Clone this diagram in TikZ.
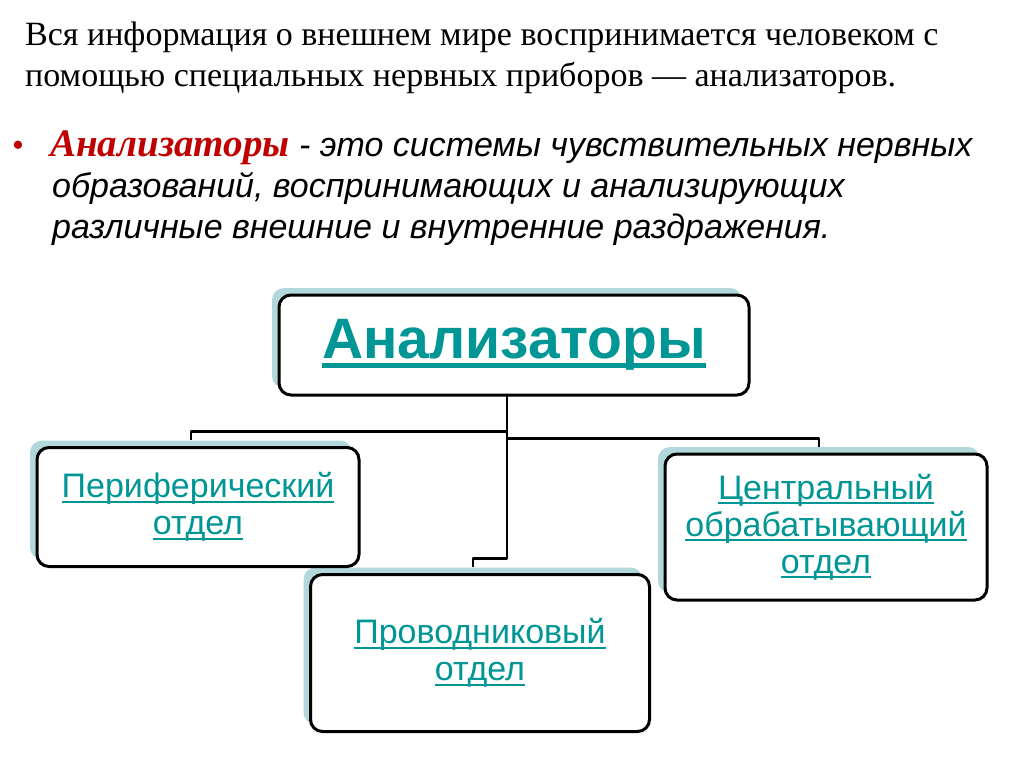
\documentclass[tikz,border=0pt]{standalone}
\usepackage{fontspec}
\setmainfont{Liberation Serif}
\setsansfont{Liberation Sans}
\usetikzlibrary{calc,positioning}
\definecolor{anateal}{RGB}{0,150,150}
\definecolor{anashade}{RGB}{178,216,219}
\definecolor{anared}{RGB}{192,0,0}
\newlength\ulw
\newcommand\tul[3]{\settowidth\ulw{#3}\rlap{\rule[-#1]{\ulw}{#2}}#3}
\newcommand\ulb[1]{\tul{5pt}{2.2pt}{#1}}
\tikzset{shd/.style={fill=anashade,rounded corners=12pt,inner sep=0pt},
  blk/.style={draw,line width=3pt,fill=white,rounded corners=12pt,inner sep=0pt,align=center,text=anateal,font=\sffamily\fontsize{34}{37}\selectfont},
  wire/.style={line width=2.8pt},
  intro/.style={anchor=base west,inner sep=0pt,font=\fontsize{34}{38}\selectfont},
  defn/.style={anchor=base west,inner sep=0pt,font=\sffamily\itshape\fontsize{34}{38}\selectfont}}

\begin{document}
\begin{tikzpicture}[x=1pt,y=-1pt,line join=round]
\useasboundingbox[fill=white] (0,0) rectangle (1024,767);
% --- text above the scheme
\node[intro] (intro1) at (25,46) {Вся информация о внешнем мире воспринимается человеком с};
\node[intro] (intro2) at (25,87) {помощью специальных нервных приборов — анализаторов.};
\node[intro,text=anared] (dot) at (12,157) {•};
\node[defn] (def1) at (50,157) {{\rmfamily\bfseries\itshape\fontsize{39}{38}\selectfont\color{anared}Анализаторы} - это системы чувствительных нервных};
\node[defn] (def2) at (52,198) {образований, воспринимающих и анализирующих};
\node[defn] (def3) at (52,238) {различные внешние и внутренние раздражения.};
% --- shadows
\node[shd,minimum width=470,minimum height=100] (anaS) at (507,338) {};
\node[shd,minimum width=322,minimum height=119] (periS) at (191,500) {};
\node[shd,minimum width=339,minimum height=157] (provS) at (473,646) {};
\node[shd,minimum width=322,minimum height=146] (centS) at (819,520) {};
% --- connectors
\draw[wire] (anaS.south) |- ($(periS.north)+(0,-9)$) -- (periS.north);
\draw[wire] (anaS.south) |- ($(centS.north)+(0,-8)$) -- (centS.north);
\draw[wire] (anaS.south) -- ($(anaS.south |- provS.north)+(0,-9)$) -| (provS.north);
% --- boxes
\node[blk,minimum width=470,minimum height=100,font=\sffamily\bfseries\fontsize{57}{60}\selectfont] (ana) at ($(anaS)+(7,7)$) {\tul{9pt}{4.5pt}{Анализаторы}};
\node[blk,minimum width=322,minimum height=119] (peri) at ($(periS)+(7,7)$) {\ulb{Периферический}\\\ulb{отдел}};
\node[blk,minimum width=339,minimum height=157] (prov) at ($(provS)+(7,7)$) {\ulb{Проводниковый}\\\ulb{отдел}};
\node[blk,minimum width=322,minimum height=146] (cent) at ($(centS)+(7,7)$) {\ulb{Центральный}\\\ulb{обрабатывающий}\\\ulb{отдел}};
\end{tikzpicture}
\end{document}
